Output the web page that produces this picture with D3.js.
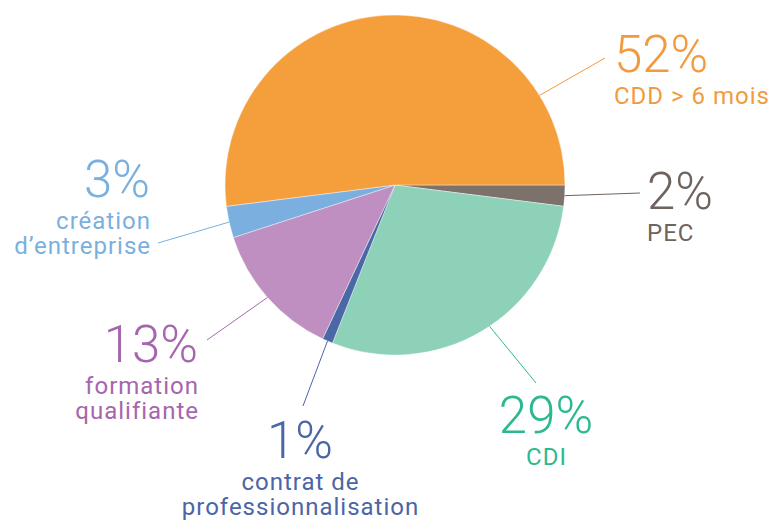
<!DOCTYPE html>
<html>
<head>
<meta charset="utf-8">
<script src="https://cdn.jsdelivr.net/npm/d3@7"></script>
<style>
  html, body { margin: 0; padding: 0; background: #ffffff; }
  svg { display: block; }
  text { font-family: "Roboto", "DejaVu Sans", sans-serif; }
</style>
</head>
<body>
<svg id="chart" width="777" height="522"></svg>
<script>
// ---- data ----
const categories = ["PEC", "CDI", "contrat de professionnalisation", "formation qualifiante", "création d’entreprise", "CDD > 6 mois"];
const values = [2, 29, 1, 13, 3, 52];
const percentLabels = ["2%", "29%", "1%", "13%", "3%", "52%"];
const labelLines = [["PEC"], ["CDI"], ["contrat de", "professionnalisation"], ["formation", "qualifiante"], ["création", "d’entreprise"], ["CDD > 6 mois"]];
const sliceColors = ["#7d716b", "#8dd1b9", "#4a67a6", "#bf8fc1", "#7bafdf", "#f59e3c"];
const textColors = ["#6f635d", "#2db891", "#4a66a5", "#a566ad", "#79b0e0", "#f39a3f"];

// ---- layout (annotation placement) ----
const cx = 395, cy = 185, radius = 170;
const LS = 1;
const labelLayout = [
  { angle: null, end: [640, 193], tx: 647, ty: 209, anchor: "start" },
  { angle: 146.2, end: [536, 383], tx: 546, ty: 433, anchor: "middle" },
  { angle: null, end: [303, 406], tx: 300, ty: 458, anchor: "middle" },
  { angle: null, end: [207, 340], tx: 198, ty: 362, anchor: "end" },
  { angle: null, end: [158, 243], tx: 150, ty: 197, anchor: "end" },
  { angle: 58.2, end: [605, 58], tx: 614, ty: 72, anchor: "start" }
];

const data = categories.map((c, i) => ({ cat: c, value: values[i], i }));

const svg = d3.select("#chart");
const g = svg.append("g").attr("transform", `translate(${cx},${cy})`);

// start at 3 o'clock, clockwise
const pie = d3.pie().value(d => d.value).sort(null)
  .startAngle(Math.PI / 2).endAngle(Math.PI / 2 + 2 * Math.PI);
const arc = d3.arc().innerRadius(0).outerRadius(radius);
const arcs = pie(data);

g.selectAll("path.slice").data(arcs).join("path")
  .attr("class", "slice")
  .attr("d", arc)
  .attr("fill", d => sliceColors[d.data.i])
  .attr("stroke", "#ffffff")
  .attr("stroke-width", 0.4);

// leader lines
arcs.forEach(a => {
  const L = labelLayout[a.data.i];
  const ang = L.angle != null ? L.angle * Math.PI / 180 : (a.startAngle + a.endAngle) / 2;
  const sx = cx + radius * Math.sin(ang);
  const sy = cy - radius * Math.cos(ang);
  svg.append("line")
    .attr("x1", sx).attr("y1", sy)
    .attr("x2", L.end[0]).attr("y2", L.end[1])
    .attr("stroke", textColors[a.data.i])
    .attr("stroke-width", 1);
});

// labels
data.forEach(d => {
  const L = labelLayout[d.i];
  svg.append("text")
    .attr("x", L.tx).attr("y", L.ty)
    .attr("text-anchor", L.anchor)
    .attr("fill", textColors[d.i])
    .attr("font-size", 51)
    .attr("font-weight", 300)
    .text(percentLabels[d.i]);
  const shift = L.anchor === "end" ? LS : (L.anchor === "middle" ? LS / 2 : 0);
  labelLines[d.i].forEach((line, k) => {
    svg.append("text")
      .attr("x", L.tx + shift).attr("y", L.ty + 32 + k * 25)
      .attr("text-anchor", L.anchor)
      .attr("fill", textColors[d.i])
      .attr("font-size", 24)
      .attr("font-weight", 400)
      .attr("letter-spacing", LS)
      .text(line);
  });
});
</script>
</body>
</html>
